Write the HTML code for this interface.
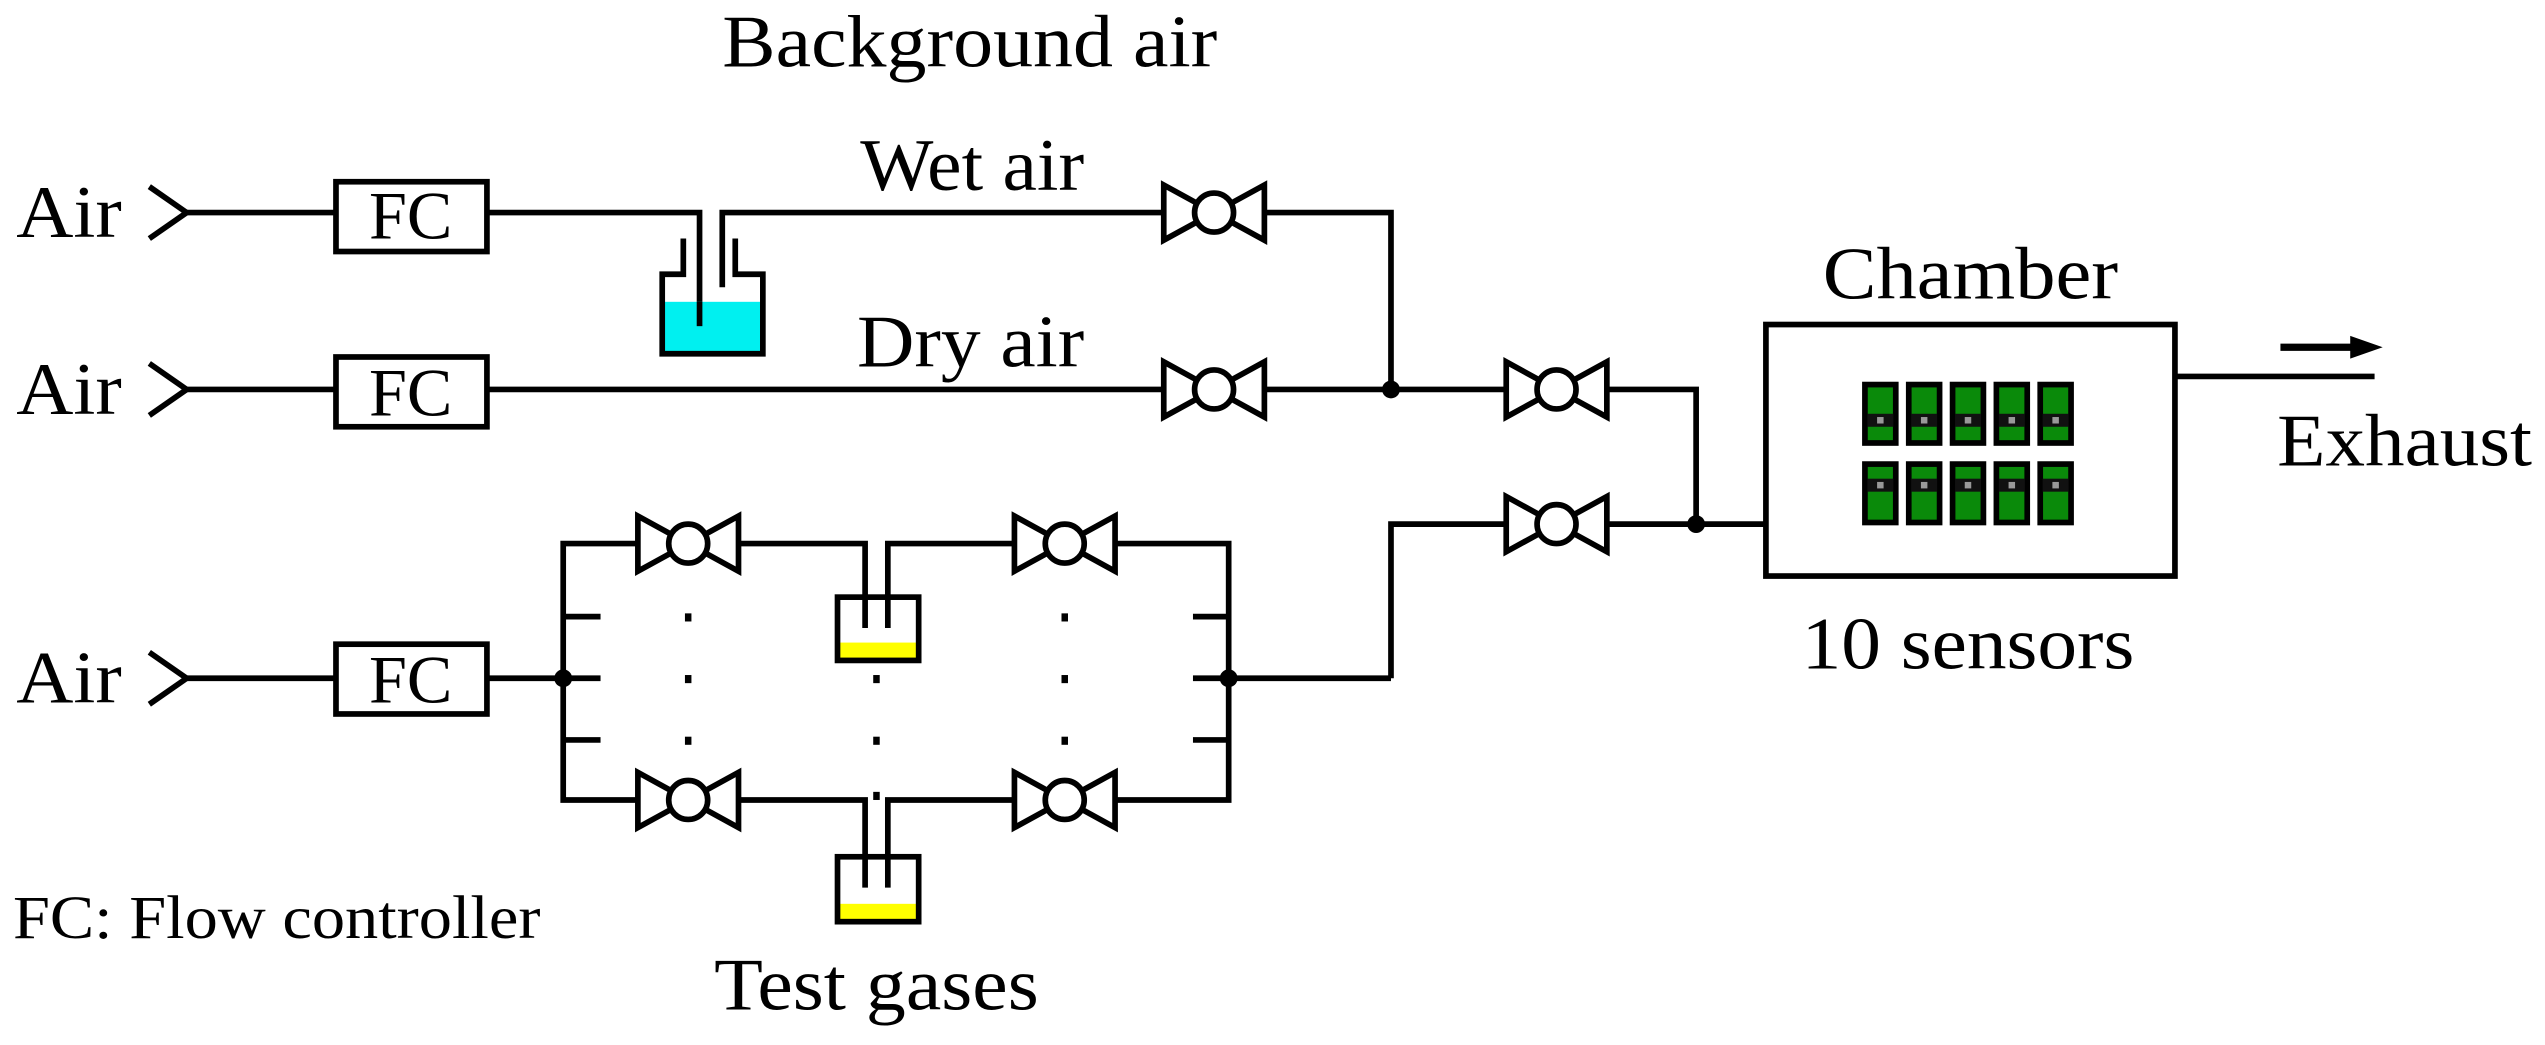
<!DOCTYPE html>
<html><head><meta charset="utf-8"><style>
html,body{margin:0;padding:0;background:#fff;}
svg{display:block;}
text{font-family:"Liberation Serif",serif;fill:#000;}
</style></head><body>
<svg width="2545" height="1045" viewBox="0 0 1568 644" preserveAspectRatio="none" xmlns="http://www.w3.org/2000/svg">
<defs>
<g id="valve" fill="#fff" stroke="#000" stroke-width="3.5">
<polygon points="-31,-17 -31,17 0,0"/>
<polygon points="31,-17 31,17 0,0"/>
<circle cx="0" cy="0" r="12"/>
</g>
<g id="chev" fill="none" stroke="#000" stroke-width="3.5"><polyline points="92,-16 115,0 92,16"/></g>
<g id="sensTop"><rect x="0" y="0" width="19" height="36" fill="#0a8a0a" stroke="#000" stroke-width="3.5"/><rect x="1.5" y="18" width="16" height="8" fill="#111"/><rect x="7.5" y="20" width="4" height="4" fill="#999"/></g>
<g id="sensBot"><rect x="0" y="0" width="19" height="36" fill="#0a8a0a" stroke="#000" stroke-width="3.5"/><rect x="1.5" y="9" width="16" height="8" fill="#111"/><rect x="7.5" y="11" width="4" height="4" fill="#999"/></g>
</defs>
<g font-size="46" lengthAdjust="spacingAndGlyphs">
<text x="445" y="41" textLength="305" lengthAdjust="spacingAndGlyphs">Background air</text>
<text x="530" y="117" textLength="138" lengthAdjust="spacingAndGlyphs">Wet air</text>
<text x="528" y="226" textLength="140" lengthAdjust="spacingAndGlyphs">Dry air</text>
<text x="10" y="146" textLength="65" lengthAdjust="spacingAndGlyphs">Air</text>
<text x="10" y="255" textLength="65" lengthAdjust="spacingAndGlyphs">Air</text>
<text x="10" y="433" textLength="65" lengthAdjust="spacingAndGlyphs">Air</text>
<text x="1123" y="184" textLength="182" lengthAdjust="spacingAndGlyphs">Chamber</text>
<text x="1110" y="412" textLength="205" lengthAdjust="spacingAndGlyphs">10 sensors</text>
<text x="1403" y="287" textLength="157" lengthAdjust="spacingAndGlyphs">Exhaust</text>
<text x="440" y="622" textLength="200" lengthAdjust="spacingAndGlyphs">Test gases</text>
</g>
<text x="8" y="578" font-size="38" textLength="325" lengthAdjust="spacingAndGlyphs">FC: Flow controller</text>
<g fill="none" stroke="#000" stroke-width="3.5">
<use href="#chev" y="131"/>
<line x1="115" y1="131" x2="207" y2="131"/>
<rect x="207" y="112" width="93" height="43" fill="#fff"/>
<polyline points="300,131 431,131 431,201"/>
<polyline points="445,177 445,131 717,131"/>
<rect x="408" y="186" width="62" height="31" fill="#00f0f0" stroke="none"/>
<polyline points="421,147 421,169 408,169 408,218 470,218 470,169 453,169 453,147"/>
<line x1="431" y1="186" x2="431" y2="201"/>
<polyline points="780,131 857,131 857,240"/>
<use href="#chev" y="240"/>
<line x1="115" y1="240" x2="207" y2="240"/>
<rect x="207" y="220" width="93" height="43" fill="#fff"/>
<line x1="300" y1="240" x2="717" y2="240"/>
<line x1="780" y1="240" x2="928" y2="240"/>
<polyline points="990,240 1045,240 1045,323"/>
<polyline points="857,418 857,323 928,323"/>
<line x1="990" y1="323" x2="1088" y2="323"/>
<rect x="1088" y="200" width="252" height="155"/>
<line x1="1340" y1="232" x2="1463" y2="232"/>
<line x1="1405" y1="214" x2="1450" y2="214" stroke-width="4.5"/>
<use href="#chev" y="418"/>
<line x1="115" y1="418" x2="207" y2="418"/>
<rect x="207" y="397" width="93" height="43" fill="#fff"/>
<line x1="300" y1="418" x2="370" y2="418"/>
<polyline points="393,335 347,335 347,493 393,493"/>
<line x1="347" y1="380" x2="370" y2="380"/>
<line x1="347" y1="456" x2="370" y2="456"/>
<polyline points="455,335 533,335 533,387"/>
<polyline points="547,387 547,335 625,335"/>
<polyline points="687,335 757,335 757,493 687,493"/>
<line x1="735" y1="380" x2="757" y2="380"/>
<line x1="735" y1="418" x2="857" y2="418"/>
<line x1="735" y1="456" x2="757" y2="456"/>
<polyline points="455,493 533,493 533,547"/>
<polyline points="547,547 547,493 625,493"/>
</g>
<rect x="517" y="396" width="48" height="10" fill="#ffff00"/>
<rect x="517" y="557" width="48" height="10" fill="#ffff00"/>
<rect x="516" y="368" width="50" height="39" fill="none" stroke="#000" stroke-width="3.5"/>
<rect x="516" y="528" width="50" height="40" fill="none" stroke="#000" stroke-width="3.5"/>
<polygon points="1448,207 1468,214 1448,221" fill="#000"/>
<g fill="#000">
<circle cx="857" cy="240" r="5.5"/>
<circle cx="1045" cy="323" r="5.5"/>
<circle cx="347" cy="418" r="5.5"/>
<circle cx="757" cy="418" r="5.5"/>
<rect x="422" y="378" width="4" height="5"/><rect x="422" y="416" width="4" height="5"/><rect x="422" y="454" width="4" height="5"/>
<rect x="654" y="378" width="4" height="5"/><rect x="654" y="416" width="4" height="5"/><rect x="654" y="454" width="4" height="5"/>
<rect x="538" y="416" width="4" height="5"/><rect x="538" y="454" width="4" height="5"/><rect x="538" y="488" width="4" height="5"/>
</g>
<use href="#valve" x="748" y="131"/>
<use href="#valve" x="748" y="240"/>
<use href="#valve" x="959" y="240"/>
<use href="#valve" x="959" y="323"/>
<use href="#valve" x="424" y="335"/>
<use href="#valve" x="656" y="335"/>
<use href="#valve" x="424" y="493"/>
<use href="#valve" x="656" y="493"/>
<g font-size="42" text-anchor="middle">
<text x="253" y="147">FC</text>
<text x="253" y="256">FC</text>
<text x="253" y="433">FC</text>
</g>
<use href="#sensTop" x="1149" y="237"/><use href="#sensTop" x="1176" y="237"/><use href="#sensTop" x="1203" y="237"/><use href="#sensTop" x="1230" y="237"/><use href="#sensTop" x="1257" y="237"/>
<use href="#sensBot" x="1149" y="286"/><use href="#sensBot" x="1176" y="286"/><use href="#sensBot" x="1203" y="286"/><use href="#sensBot" x="1230" y="286"/><use href="#sensBot" x="1257" y="286"/>
</svg>
</body></html>
